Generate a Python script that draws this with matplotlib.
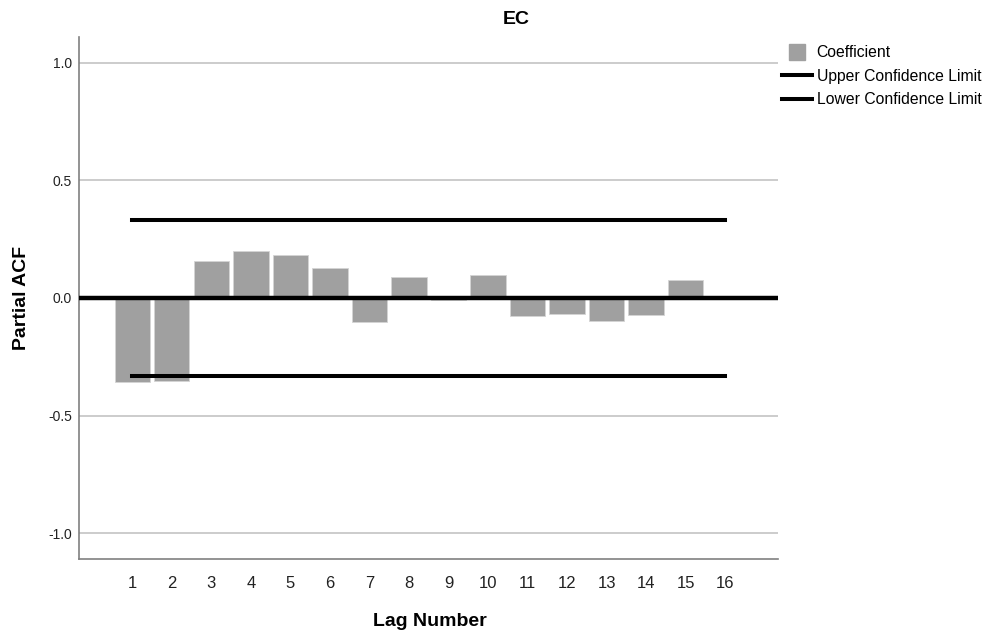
import numpy as np
import matplotlib.pyplot as plt
from matplotlib.lines import Line2D

plt.rcParams['font.family'] = ['Liberation Sans', 'DejaVu Sans']

lags = list(range(1, 17))
pacf = [-0.356, -0.355, 0.156, 0.200, 0.182, 0.128, -0.104, 0.088,
        -0.010, 0.097, -0.075, -0.068, -0.096, -0.071, 0.077, 0.004]
upper_limit = 0.332
lower_limit = -0.332
yticks = [-1.0, -0.5, 0.0, 0.5, 1.0]

fig = plt.figure(figsize=(9.88, 6.37), dpi=100)
ax = fig.add_axes([0.08, 0.1224, 0.7075, 0.8196])

ax.set_yticks(yticks)
ax.set_yticklabels([f'{v:.1f}' for v in yticks])
ax.grid(axis='y', color='#c8c8c8', linewidth=1.3, zorder=0)
ax.set_axisbelow(True)

ax.bar(lags, pacf, width=0.89, color='#a0a0a0', edgecolor='#d4d4d4',
       linewidth=0.6, zorder=2)
ax.axhline(0, color='black', linewidth=3.2, zorder=3)
ax.plot([lags[0], lags[-1]], [upper_limit, upper_limit], color='black', linewidth=2.9, zorder=3)
ax.plot([lags[0], lags[-1]], [lower_limit, lower_limit], color='black', linewidth=2.9, zorder=3)

ax.set_xlim(-0.35, 17.34)
ax.set_ylim(-1.11, 1.11)
ax.set_xticks(lags)
ax.tick_params(axis='both', length=0, colors='#222222')
ax.tick_params(axis='y', pad=5, labelsize=10)
ax.tick_params(axis='x', pad=12, labelsize=12)

for side in ['top', 'right']:
    ax.spines[side].set_visible(False)
for side in ['left', 'bottom']:
    ax.spines[side].set_color('#808080')
    ax.spines[side].set_linewidth(1.2)

fig.text(430 / 988, 1 - 622 / 637, 'Lag Number', ha='center', va='center',
         fontsize=14, fontweight='bold')
fig.text(21 / 988, 1 - 298 / 637, 'Partial ACF', ha='center', va='center',
         rotation=90, fontsize=14, fontweight='bold')
fig.text(516 / 988, 1 - 20 / 637, 'EC', ha='center', va='center',
         fontsize=14, fontweight='bold')

handles = [
    Line2D([], [], marker='s', linestyle='none', markersize=11.5, color='#a0a0a0'),
    Line2D([], [], color='black', linewidth=2.9),
    Line2D([], [], color='black', linewidth=2.9),
]
labels = ['Coefficient', 'Upper Confidence Limit', 'Lower Confidence Limit']
fig.legend(handles, labels, loc='upper left', bbox_to_anchor=(782 / 988, 1 - 45 / 637),
           frameon=False, fontsize=11.3, handlelength=1.9, handletextpad=0.3,
           labelspacing=0.55, borderpad=0, borderaxespad=0)

fig.savefig('out.png', dpi=100)
